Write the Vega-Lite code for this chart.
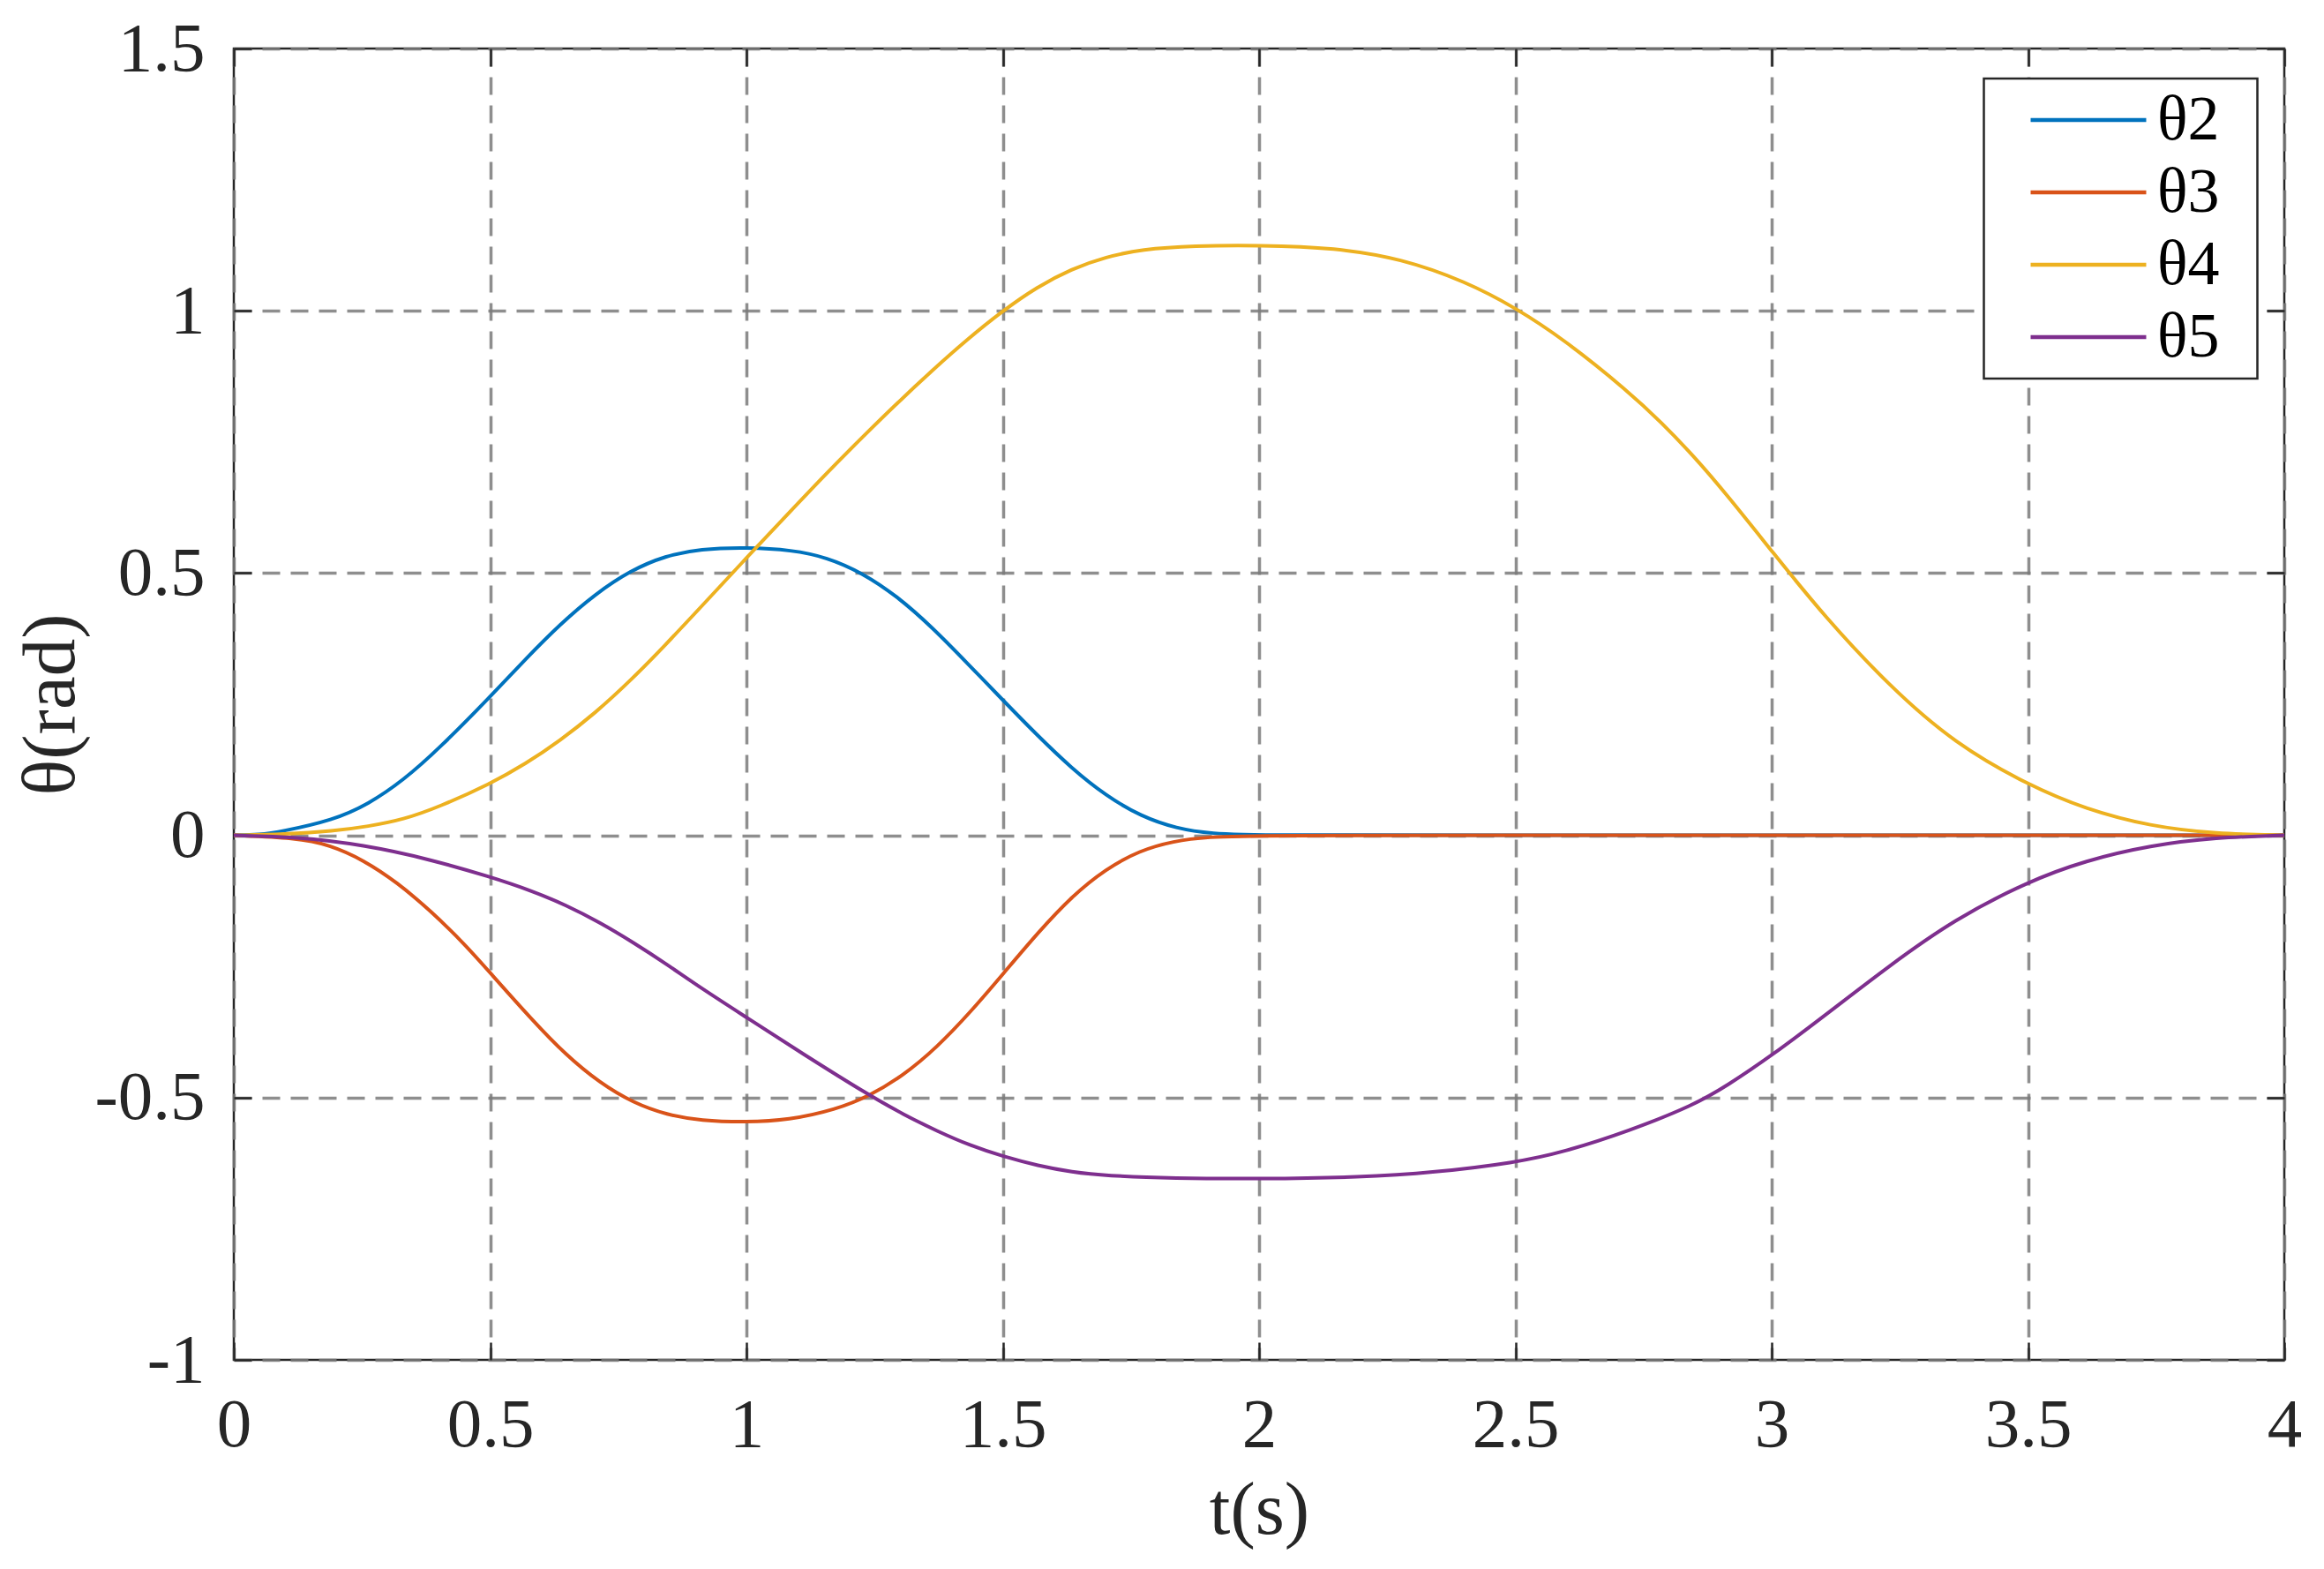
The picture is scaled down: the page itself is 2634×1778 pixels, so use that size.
{
  "$schema": "https://vega.github.io/schema/vega-lite/v6.json",
  "width": 2324,
  "height": 1486,
  "autosize": {"type": "none"},
  "padding": {"left": 265, "top": 55, "right": 45, "bottom": 237},
  "background": "white",
  "config": {
    "view": {"stroke": "#262626", "strokeWidth": 2.5},
    "font": "Liberation Serif",
    "axis": {
      "labelFont": "Liberation Serif",
      "titleFont": "Liberation Serif",
      "labelColor": "#262626",
      "titleColor": "#262626",
      "labelFontSize": 79,
      "titleFontSize": 85,
      "titleFontWeight": "normal",
      "domain": false,
      "tickColor": "#262626",
      "tickWidth": 2.5,
      "tickSize": -20,
      "gridColor": "#7a7a7a",
      "gridOpacity": 0.85,
      "gridWidth": 3.5,
      "gridDash": [20, 12]
    },
    "legend": {"strokeWidth": 2.5}
  },
  "data": {
    "values": [
      {"t": 0, "v": 0, "s": "θ2"},
      {"t": 0.05, "v": 0.001, "s": "θ2"},
      {"t": 0.092, "v": 0.007, "s": "θ2"},
      {"t": 0.194, "v": 0.029, "s": "θ2"},
      {"t": 0.262, "v": 0.059, "s": "θ2"},
      {"t": 0.331, "v": 0.105, "s": "θ2"},
      {"t": 0.4, "v": 0.165, "s": "θ2"},
      {"t": 0.5, "v": 0.264, "s": "θ2"},
      {"t": 0.569, "v": 0.336, "s": "θ2"},
      {"t": 0.637, "v": 0.403, "s": "θ2"},
      {"t": 0.705, "v": 0.46, "s": "θ2"},
      {"t": 0.774, "v": 0.505, "s": "θ2"},
      {"t": 0.842, "v": 0.533, "s": "θ2"},
      {"t": 0.91, "v": 0.546, "s": "θ2"},
      {"t": 1.0, "v": 0.549, "s": "θ2"},
      {"t": 1.089, "v": 0.544, "s": "θ2"},
      {"t": 1.157, "v": 0.53, "s": "θ2"},
      {"t": 1.225, "v": 0.501, "s": "θ2"},
      {"t": 1.294, "v": 0.456, "s": "θ2"},
      {"t": 1.362, "v": 0.397, "s": "θ2"},
      {"t": 1.43, "v": 0.329, "s": "θ2"},
      {"t": 1.5, "v": 0.258, "s": "θ2"},
      {"t": 1.566, "v": 0.192, "s": "θ2"},
      {"t": 1.634, "v": 0.128, "s": "θ2"},
      {"t": 1.702, "v": 0.075, "s": "θ2"},
      {"t": 1.77, "v": 0.036, "s": "θ2"},
      {"t": 1.839, "v": 0.013, "s": "θ2"},
      {"t": 1.907, "v": 0.003, "s": "θ2"},
      {"t": 2.0, "v": 0, "s": "θ2"},
      {"t": 2.5, "v": 0, "s": "θ2"},
      {"t": 3.0, "v": 0, "s": "θ2"},
      {"t": 3.5, "v": 0, "s": "θ2"},
      {"t": 4.0, "v": 0, "s": "θ2"},

      {"t": 0, "v": 0, "s": "θ3"},
      {"t": 0.121, "v": -0.005, "s": "θ3"},
      {"t": 0.187, "v": -0.018, "s": "θ3"},
      {"t": 0.253, "v": -0.047, "s": "θ3"},
      {"t": 0.319, "v": -0.09, "s": "θ3"},
      {"t": 0.384, "v": -0.144, "s": "θ3"},
      {"t": 0.45, "v": -0.207, "s": "θ3"},
      {"t": 0.5, "v": -0.262, "s": "θ3"},
      {"t": 0.582, "v": -0.352, "s": "θ3"},
      {"t": 0.648, "v": -0.419, "s": "θ3"},
      {"t": 0.714, "v": -0.472, "s": "θ3"},
      {"t": 0.779, "v": -0.51, "s": "θ3"},
      {"t": 0.845, "v": -0.533, "s": "θ3"},
      {"t": 0.911, "v": -0.544, "s": "θ3"},
      {"t": 1.0, "v": -0.547, "s": "θ3"},
      {"t": 1.082, "v": -0.543, "s": "θ3"},
      {"t": 1.174, "v": -0.523, "s": "θ3"},
      {"t": 1.24, "v": -0.497, "s": "θ3"},
      {"t": 1.306, "v": -0.458, "s": "θ3"},
      {"t": 1.372, "v": -0.404, "s": "θ3"},
      {"t": 1.438, "v": -0.336, "s": "θ3"},
      {"t": 1.5, "v": -0.265, "s": "θ3"},
      {"t": 1.569, "v": -0.185, "s": "θ3"},
      {"t": 1.635, "v": -0.116, "s": "θ3"},
      {"t": 1.701, "v": -0.064, "s": "θ3"},
      {"t": 1.767, "v": -0.029, "s": "θ3"},
      {"t": 1.833, "v": -0.011, "s": "θ3"},
      {"t": 1.899, "v": -0.003, "s": "θ3"},
      {"t": 2.0, "v": 0, "s": "θ3"},
      {"t": 2.5, "v": 0, "s": "θ3"},
      {"t": 3.0, "v": 0, "s": "θ3"},
      {"t": 3.5, "v": 0, "s": "θ3"},
      {"t": 4.0, "v": 0, "s": "θ3"},

      {"t": 0, "v": 0, "s": "θ4"},
      {"t": 0.1, "v": 0.002, "s": "θ4"},
      {"t": 0.194, "v": 0.008, "s": "θ4"},
      {"t": 0.262, "v": 0.017, "s": "θ4"},
      {"t": 0.331, "v": 0.03, "s": "θ4"},
      {"t": 0.4, "v": 0.054, "s": "θ4"},
      {"t": 0.5, "v": 0.098, "s": "θ4"},
      {"t": 0.569, "v": 0.136, "s": "θ4"},
      {"t": 0.637, "v": 0.181, "s": "θ4"},
      {"t": 0.705, "v": 0.233, "s": "θ4"},
      {"t": 0.774, "v": 0.295, "s": "θ4"},
      {"t": 0.842, "v": 0.363, "s": "θ4"},
      {"t": 0.91, "v": 0.434, "s": "θ4"},
      {"t": 1.0, "v": 0.529, "s": "θ4"},
      {"t": 1.089, "v": 0.621, "s": "θ4"},
      {"t": 1.157, "v": 0.691, "s": "θ4"},
      {"t": 1.225, "v": 0.758, "s": "θ4"},
      {"t": 1.294, "v": 0.824, "s": "θ4"},
      {"t": 1.362, "v": 0.886, "s": "θ4"},
      {"t": 1.43, "v": 0.945, "s": "θ4"},
      {"t": 1.5, "v": 1.0, "s": "θ4"},
      {"t": 1.566, "v": 1.045, "s": "θ4"},
      {"t": 1.634, "v": 1.08, "s": "θ4"},
      {"t": 1.702, "v": 1.103, "s": "θ4"},
      {"t": 1.77, "v": 1.117, "s": "θ4"},
      {"t": 1.873, "v": 1.124, "s": "θ4"},
      {"t": 2.0, "v": 1.125, "s": "θ4"},
      {"t": 2.149, "v": 1.12, "s": "θ4"},
      {"t": 2.276, "v": 1.1, "s": "θ4"},
      {"t": 2.403, "v": 1.056, "s": "θ4"},
      {"t": 2.5, "v": 1.006, "s": "θ4"},
      {"t": 2.594, "v": 0.946, "s": "θ4"},
      {"t": 2.721, "v": 0.846, "s": "θ4"},
      {"t": 2.785, "v": 0.787, "s": "θ4"},
      {"t": 2.849, "v": 0.722, "s": "θ4"},
      {"t": 2.912, "v": 0.65, "s": "θ4"},
      {"t": 3.0, "v": 0.542, "s": "θ4"},
      {"t": 3.103, "v": 0.417, "s": "θ4"},
      {"t": 3.23, "v": 0.284, "s": "θ4"},
      {"t": 3.357, "v": 0.175, "s": "θ4"},
      {"t": 3.5, "v": 0.096, "s": "θ4"},
      {"t": 3.612, "v": 0.05, "s": "θ4"},
      {"t": 3.739, "v": 0.017, "s": "θ4"},
      {"t": 3.866, "v": 0.003, "s": "θ4"},
      {"t": 4.0, "v": 0, "s": "θ4"},

      {"t": 0, "v": 0, "s": "θ5"},
      {"t": 0.121, "v": -0.003, "s": "θ5"},
      {"t": 0.253, "v": -0.018, "s": "θ5"},
      {"t": 0.384, "v": -0.046, "s": "θ5"},
      {"t": 0.5, "v": -0.079, "s": "θ5"},
      {"t": 0.582, "v": -0.106, "s": "θ5"},
      {"t": 0.648, "v": -0.133, "s": "θ5"},
      {"t": 0.714, "v": -0.166, "s": "θ5"},
      {"t": 0.779, "v": -0.204, "s": "θ5"},
      {"t": 0.845, "v": -0.246, "s": "θ5"},
      {"t": 0.911, "v": -0.291, "s": "θ5"},
      {"t": 1.0, "v": -0.347, "s": "θ5"},
      {"t": 1.109, "v": -0.416, "s": "θ5"},
      {"t": 1.24, "v": -0.496, "s": "θ5"},
      {"t": 1.306, "v": -0.532, "s": "θ5"},
      {"t": 1.372, "v": -0.564, "s": "θ5"},
      {"t": 1.438, "v": -0.592, "s": "θ5"},
      {"t": 1.5, "v": -0.612, "s": "θ5"},
      {"t": 1.569, "v": -0.63, "s": "θ5"},
      {"t": 1.635, "v": -0.642, "s": "θ5"},
      {"t": 1.701, "v": -0.649, "s": "θ5"},
      {"t": 1.833, "v": -0.654, "s": "θ5"},
      {"t": 2.0, "v": -0.655, "s": "θ5"},
      {"t": 2.2, "v": -0.652, "s": "θ5"},
      {"t": 2.34, "v": -0.643, "s": "θ5"},
      {"t": 2.5, "v": -0.624, "s": "θ5"},
      {"t": 2.594, "v": -0.604, "s": "θ5"},
      {"t": 2.721, "v": -0.564, "s": "θ5"},
      {"t": 2.849, "v": -0.514, "s": "θ5"},
      {"t": 2.912, "v": -0.478, "s": "θ5"},
      {"t": 3.0, "v": -0.42, "s": "θ5"},
      {"t": 3.103, "v": -0.344, "s": "θ5"},
      {"t": 3.23, "v": -0.248, "s": "θ5"},
      {"t": 3.357, "v": -0.16, "s": "θ5"},
      {"t": 3.5, "v": -0.088, "s": "θ5"},
      {"t": 3.612, "v": -0.048, "s": "θ5"},
      {"t": 3.739, "v": -0.019, "s": "θ5"},
      {"t": 3.866, "v": -0.004, "s": "θ5"},
      {"t": 4.0, "v": 0, "s": "θ5"}
    ]
  },
  "layer": [
    {
      "mark": {"type": "line", "strokeWidth": 4, "interpolate": "basis"},
      "encoding": {
        "x": {
          "field": "t", "type": "quantitative",
          "scale": {"domain": [0, 4], "nice": false},
          "axis": {
            "orient": "bottom", "title": "t(s)",
            "values": [0, 0.5, 1, 1.5, 2, 2.5, 3, 3.5, 4],
            "labelExpr": "'' + datum.value",
            "labelPadding": 55, "titlePadding": 16,
            "labelFlush": false, "labelOverlap": false
          }
        },
        "y": {
          "field": "v", "type": "quantitative",
          "scale": {"domain": [-1, 1.5], "nice": false, "zero": false},
          "axis": {
            "orient": "left", "title": "θ(rad)",
            "values": [-1, -0.5, 0, 0.5, 1, 1.5],
            "labelExpr": "'' + datum.value",
            "labelPadding": 53, "titlePadding": 5,
            "labelFlush": false, "labelOverlap": false
          }
        },
        "color": {
          "field": "s", "type": "nominal",
          "scale": {"domain": ["θ2", "θ3", "θ4", "θ5"], "range": ["#0072BD", "#D95319", "#EDB120", "#7E2F8E"]},
          "legend": {
            "orient": "none", "legendX": 1983.5, "legendY": 34,
            "title": "\u2800",
            "titleOrient": "right",
            "titleFontSize": 44,
            "titlePadding": 0,
            "symbolType": "M-2.183,0H2.183",
            "symbolSize": 3600,
            "symbolStrokeWidth": 4.5,
            "symbolOffset": 71.5,
            "labelOffset": 42,
            "labelFont": "Liberation Serif",
            "labelFontSize": 72,
            "labelColor": "#000000",
            "labelLimit": 0,
            "padding": 11,
            "rowPadding": 10,
            "strokeColor": "#262626",
            "fillColor": "white"
          }
        }
      }
    },
    {
      "mark": {"type": "line", "strokeOpacity": 0, "strokeWidth": 0},
      "encoding": {
        "detail": {"field": "s"},
        "x": {
          "field": "t", "type": "quantitative",
          "axis": {"orient": "top", "title": null, "labels": false, "grid": false,
                   "values": [0, 0.5, 1, 1.5, 2, 2.5, 3, 3.5, 4]}
        },
        "y": {
          "field": "v", "type": "quantitative",
          "axis": {"orient": "right", "title": null, "labels": false, "grid": false,
                   "values": [-1, -0.5, 0, 0.5, 1, 1.5]}
        }
      }
    }
  ],
  "resolve": {"axis": {"x": "independent", "y": "independent"}}
}
